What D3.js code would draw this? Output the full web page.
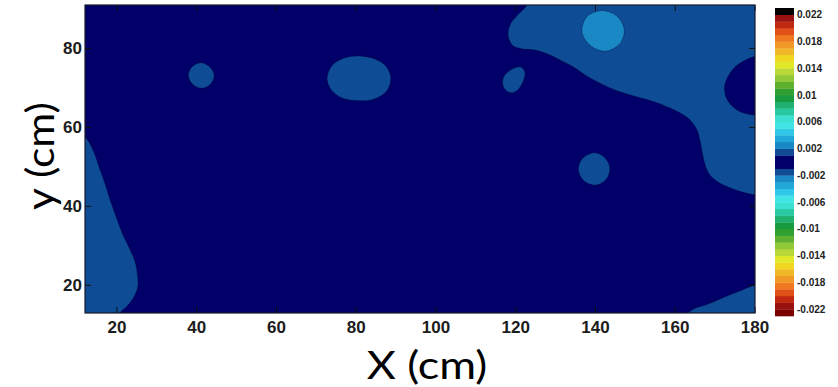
<!DOCTYPE html>
<html>
<head>
<meta charset="utf-8">
<script src="https://cdn.jsdelivr.net/npm/d3@7"></script>
<style>
  html, body { margin: 0; padding: 0; background: #ffffff; }
  svg { display: block; }
</style>
</head>
<body>
<svg id="chart" width="838" height="387"></svg>
<script>
// ---- data ---------------------------------------------------------------
const xDomain = [12, 180];
const yDomain = [13, 91];

// field value inside each kind of patch; everything else is the background value
const backgroundValue = 0.0005;
const patchValue = 0.0015;
const spotValue = 0.0025;

// contour outlines in cm (x, y); points past the frame are clipped away
const leftPatch = [
  [6, 61], [12, 57.6], [14, 54.3], [15.8, 49.2], [17.2, 45.2], [18.3, 41.6], [19.8, 37.4],
  [21.3, 33.3], [23.3, 29], [24.5, 26.2], [25, 23.9], [25.3, 20.1], [24.8, 18.2],
  [23.8, 16.3], [22.4, 14.6], [20.8, 13], [19.5, 8], [6, 8]
];
const topRightPatch = [
  [123.8, 96], [122.8, 91], [120.5, 88.5], [118.6, 86], [118.1, 83.4], [119.1, 80.9],
  [121.5, 79.9], [124.8, 79.6], [128, 78.6], [131.1, 77.1], [134.5, 75.3], [137.4, 73.3],
  [140.5, 71.5], [143.6, 70], [147.5, 68.6], [151.2, 67.5], [155, 66.4], [158.7, 64.9],
  [161.5, 63.5], [163.7, 61.9], [165.4, 59.5], [166.2, 56.8], [166.8, 53.5], [167.5, 50.5],
  [168.5, 48.2], [170, 46.7], [172.5, 45.2], [175, 44.2], [178, 43.3], [180, 42.9],
  [186, 42], [186, 96]
];
const rightHole = [
  [184, 79], [180, 78], [177.5, 77], [175.2, 75.5], [173.4, 73.2], [172.4, 70.5],
  [172.8, 67.5], [174.5, 65.2], [177, 63.7], [180, 63.1], [184, 62.5]
];
const bottomRightPatch = [
  [160, 8], [163.2, 13], [165, 14.2], [167.5, 15], [170, 16], [172.5, 17.1],
  [176, 18.5], [180, 20.1], [186, 21], [186, 8]
];
const blobA = [
  [41.0, 76.4], [43.3, 75.3], [44.4, 73.2], [43.5, 71.0], [41.3, 69.9], [38.9, 71.0],
  [37.9, 73.2], [38.8, 75.3]
];
const blobB = [
  [80.5, 78.1], [84.5, 77.4], [87.5, 75.5], [88.7, 72.3], [87.5, 69.0], [84.0, 67.0],
  [80.3, 66.8], [76.6, 67.4], [73.9, 69.3], [72.7, 72.3], [73.9, 75.6], [76.8, 77.5]
];
const blobC = [
  [121.3, 75.3], [122.3, 74.0], [121.8, 71.5], [120.3, 69.3], [118.6, 68.8],
  [116.9, 70.3], [117.0, 72.8], [119.3, 74.9]
];
const blobD = [
  [139.8, 53.6], [142.3, 52.4], [143.6, 49.8], [142.8, 47.0], [140.2, 45.4],
  [137.3, 46.3], [135.7, 49.2], [136.8, 52.2]
];
const spot = [
  [141.5, 89.6], [145.3, 88.3], [147.2, 85.0], [146.3, 81.4], [142.5, 79.3],
  [138.6, 80.8], [136.6, 84.2], [137.8, 88.0]
];

const xTicks = [20, 40, 60, 80, 100, 120, 140, 160, 180];
const yTicks = [20, 40, 60, 80];
const colorbarTicks = [0.022, 0.018, 0.014, 0.01, 0.006, 0.002, -0.002, -0.006, -0.01, -0.014, -0.018, -0.022];

// colour by |value| in 0.001 steps (index 0 = |v| < 0.001)
const bandColors = [
  "#000068", "#0e4c96", "#1a88c4", "#22a8d8", "#30c8e8", "#40e4e4",
  "#3ce0d0", "#28c8a0", "#20b070", "#1a9a40", "#30a030", "#60b030",
  "#90c838", "#b8d838", "#e0e828", "#f0d820", "#f0b828", "#f09828",
  "#f07820", "#e05018", "#c02810", "#981010"
];
const topBandColor = "#000000";
const bottomBandColor = "#7c0000";
const bandStep = 0.001;
const colorLimit = 0.023;

// drawing order: lower patches first, holes and spots on top
const regions = [
  { outline: leftPatch, value: patchValue },
  { outline: topRightPatch, value: patchValue },
  { outline: rightHole, value: backgroundValue },
  { outline: bottomRightPatch, value: patchValue },
  { outline: blobA, value: patchValue },
  { outline: blobB, value: patchValue },
  { outline: blobC, value: patchValue },
  { outline: blobD, value: patchValue },
  { outline: spot, value: spotValue }
];

// ---- layout ---------------------------------------------------------------
const plot = { left: 85, right: 755, top: 5, bottom: 313 };
const cbar = { left: 775, right: 794, top: 8, bottom: 316 };

const svg = d3.select("#chart");
const x = d3.scaleLinear().domain(xDomain).range([plot.left, plot.right]);
const y = d3.scaleLinear().domain(yDomain).range([plot.bottom, plot.top]);

function colorFor(v) {
  const k = Math.floor(Math.abs(v) / bandStep + 1e-9);
  if (k >= bandColors.length) return v > 0 ? topBandColor : bottomBandColor;
  return bandColors[k];
}

// ---- filled contours ---------------------------------------------------------------
svg.append("defs").append("clipPath").attr("id", "plot-clip")
  .append("rect")
  .attr("x", plot.left).attr("y", plot.top)
  .attr("width", plot.right - plot.left).attr("height", plot.bottom - plot.top);

const field = svg.append("g").attr("clip-path", "url(#plot-clip)");
field.append("rect")
  .attr("x", plot.left).attr("y", plot.top)
  .attr("width", plot.right - plot.left).attr("height", plot.bottom - plot.top)
  .attr("fill", colorFor(backgroundValue));

const outlinePath = d3.line()
  .x(d => x(d[0]))
  .y(d => y(d[1]))
  .curve(d3.curveCatmullRomClosed.alpha(0.5));

field.selectAll("path.patch")
  .data(regions)
  .join("path")
  .attr("class", "patch")
  .attr("d", d => outlinePath(d.outline))
  .attr("fill", d => colorFor(d.value))
  .attr("stroke", "rgba(0,0,40,0.45)")
  .attr("stroke-width", 0.8);

// ---- axes ---------------------------------------------------------------
const tickFont = "'Liberation Sans', Arial, sans-serif";
const axes = svg.append("g");

// inward tick marks on all four sides
xTicks.forEach(t => {
  axes.append("line").attr("x1", x(t)).attr("x2", x(t))
    .attr("y1", plot.bottom).attr("y2", plot.bottom - 6)
    .attr("stroke", "#111").attr("stroke-width", 1);
  axes.append("line").attr("x1", x(t)).attr("x2", x(t))
    .attr("y1", plot.top).attr("y2", plot.top + 6)
    .attr("stroke", "#111").attr("stroke-width", 1);
});
yTicks.forEach(t => {
  axes.append("line").attr("x1", plot.left).attr("x2", plot.left + 6)
    .attr("y1", y(t)).attr("y2", y(t))
    .attr("stroke", "#111").attr("stroke-width", 1);
  axes.append("line").attr("x1", plot.right).attr("x2", plot.right - 6)
    .attr("y1", y(t)).attr("y2", y(t))
    .attr("stroke", "#111").attr("stroke-width", 1);
});

axes.append("rect")
  .attr("x", plot.left).attr("y", plot.top)
  .attr("width", plot.right - plot.left).attr("height", plot.bottom - plot.top)
  .attr("fill", "none").attr("stroke", "#1a1a2a").attr("stroke-width", 1.2);

axes.selectAll("text.xt").data(xTicks).join("text")
  .attr("class", "xt")
  .attr("x", d => x(d)).attr("y", 327)
  .attr("text-anchor", "middle").attr("dominant-baseline", "central")
  .style("font-family", tickFont).style("font-weight", "bold").style("font-size", "17px")
  .attr("fill", "#1c1c1c")
  .text(d => d);

axes.selectAll("text.yt").data(yTicks).join("text")
  .attr("class", "yt")
  .attr("x", 82).attr("y", d => y(d))
  .attr("text-anchor", "end").attr("dominant-baseline", "central")
  .style("font-family", tickFont).style("font-weight", "bold").style("font-size", "17px")
  .attr("fill", "#1c1c1c")
  .text(d => d);

const titleFont = "Lato, 'Open Sans', sans-serif";
svg.append("text")
  .attr("transform", "translate(427,379) scale(1.18,1)")
  .attr("text-anchor", "middle")
  .style("font-family", titleFont).style("font-size", "38px")
  .attr("fill", "#000")
  .text("X (cm)");

svg.append("text")
  .attr("transform", "translate(54,156) rotate(-90) scale(1.12,1)")
  .attr("text-anchor", "middle")
  .style("font-family", titleFont).style("font-size", "38px")
  .attr("fill", "#000")
  .text("y (cm)");

// ---- colorbar ---------------------------------------------------------------
const c = d3.scaleLinear().domain([-colorLimit, colorLimit]).range([cbar.bottom, cbar.top]);
const bandLows = d3.range(-23, 23).map(i => i * bandStep);
const cb = svg.append("g");
cb.selectAll("rect.cb").data(bandLows).join("rect")
  .attr("class", "cb")
  .attr("x", cbar.left)
  .attr("y", d => c(d + bandStep))
  .attr("width", cbar.right - cbar.left)
  .attr("height", d => c(d) - c(d + bandStep) + 0.3)
  .attr("fill", d => colorFor(d + bandStep / 2));

cb.selectAll("text.cbt").data(colorbarTicks).join("text")
  .attr("class", "cbt")
  .attr("x", 797).attr("y", d => c(d))
  .attr("dominant-baseline", "central")
  .style("font-family", tickFont).style("font-weight", "bold").style("font-size", "10px")
  .attr("fill", "#222")
  .text(d => String(+d.toFixed(3)));
</script>
</body>
</html>
